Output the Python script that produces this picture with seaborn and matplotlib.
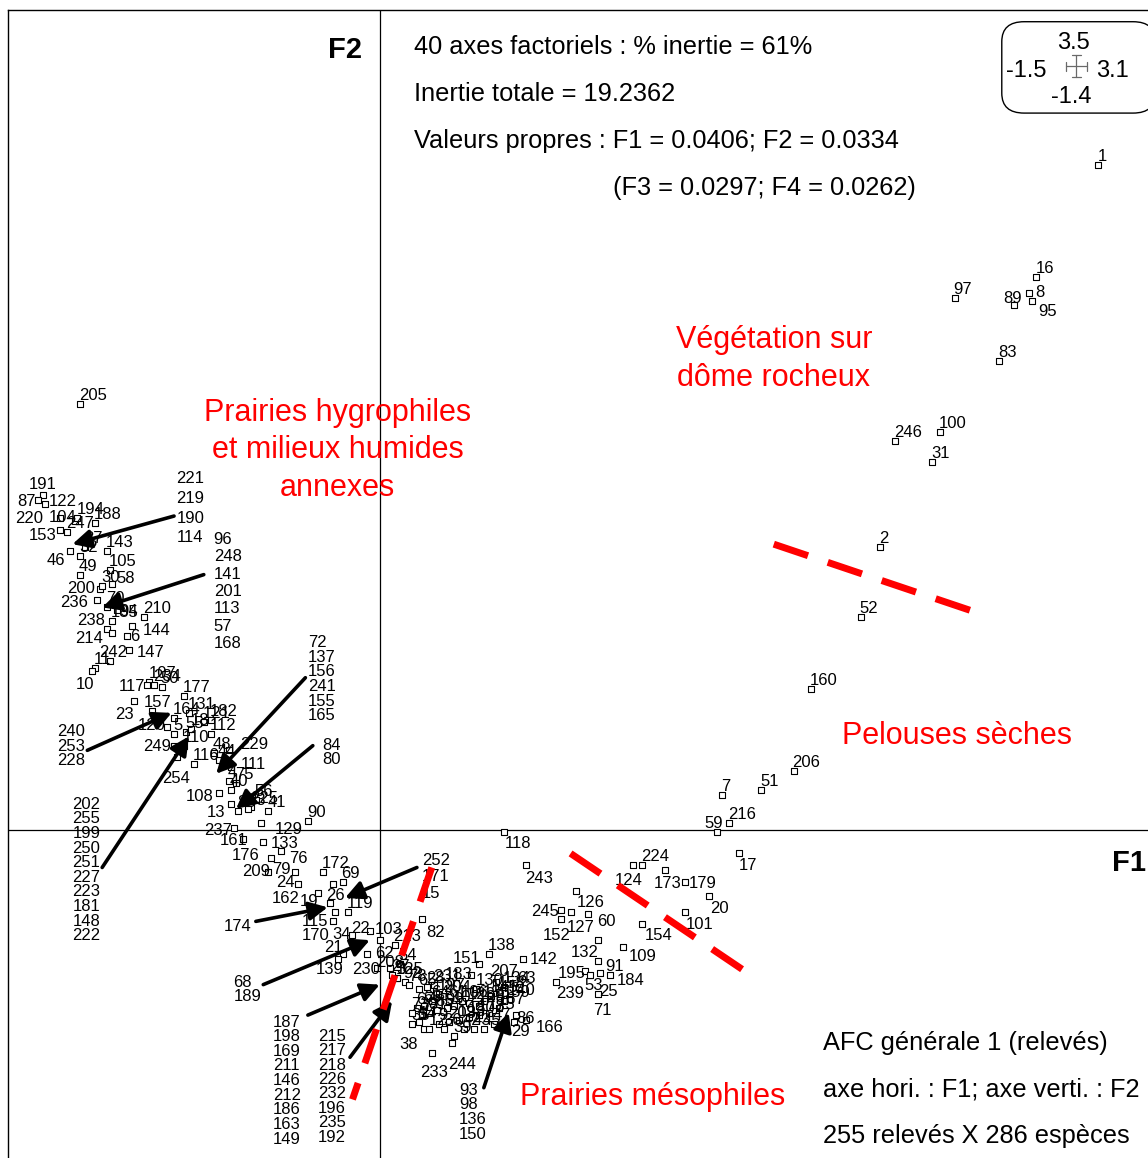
import matplotlib
matplotlib.use("Agg")
import matplotlib.pyplot as plt
from matplotlib.patches import FancyBboxPatch
import numpy as np
import pandas as pd
import seaborn as sns

# ---- data (factor scores) ----
pt_labels = ["1", "16", "8", "95", "89", "97", "83", "100", "246", "31", "2", "52", "160", "206", "51",
             "7", "216", "59", "17", "205", "118", "243", "124", "224", "173", "179", "20", "101", "154",
             "126", "245", "127", "152", "60", "132", "109", "91", "184", "25", "195", "53", "239", "71",
             "142", "138", "151", "183", "207", "134", "63", "140", "130", "38", "233", "244", "29", "166",
             "86"]
pt_x = [2.90, 2.65, 2.62, 2.63, 2.56, 2.32, 2.50, 2.26, 2.08, 2.23, 2.02, 1.94, 1.74, 1.67, 1.54,
        1.38, 1.41, 1.36, 1.45, -1.21, 0.50, 0.59, 1.02, 1.06, 1.15, 1.23, 1.33, 1.23, 1.06,
        0.79, 0.73, 0.77, 0.73, 0.84, 0.88, 0.98, 0.88, 0.93, 0.89, 0.83, 0.85, 0.71, 0.88,
        0.58, 0.44, 0.40, 0.37, 0.47, 0.50, 0.56, 0.52, 0.39, 0.18, 0.21, 0.29, 0.54, 0.59,
        0.55]
pt_y = [2.84, 2.36, 2.29, 2.26, 2.24, 2.27, 2.00, 1.70, 1.66, 1.57, 1.21, 0.91, 0.60, 0.25, 0.17,
        0.15, 0.03, -0.01, -0.10, 1.82, -0.01, -0.15, -0.15, -0.15, -0.17, -0.22, -0.28, -0.35, -0.40,
        -0.26, -0.34, -0.35, -0.38, -0.36, -0.47, -0.50, -0.56, -0.62, -0.61, -0.60, -0.62, -0.65, -0.70,
        -0.55, -0.53, -0.57, -0.62, -0.65, -0.67, -0.67, -0.72, -0.68, -0.85, -0.95, -0.91, -0.82, -0.81,
        -0.79]

# hygrophilous group (left)
left_labels = ["191", "87", "122", "220", "104", "194", "188", "153", "247", "46", "37", "32", "143",
               "49", "105", "58", "200", "30", "236", "70", "94", "210", "185", "238", "214", "6", "144",
               "147", "242", "11", "10", "107", "234", "117", "50", "177", "23", "157", "164", "131",
               "182", "120", "5", "55", "121", "18", "112", "249", "110", "229", "116", "48", "44",
               "254", "111", "4", "75", "108", "40", "56", "225", "41", "13", "88", "33", "90", "129",
               "237", "161", "133", "176", "76", "209", "79", "24", "172", "69", "26", "162", "19",
               "115", "119", "170", "22", "34", "103", "21", "62", "139", "230", "208", "213", "54",
               "125", "82"]
left_x = [-1.36, -1.38, -1.35, -1.29, -1.23, -1.22, -1.15, -1.29, -1.26, -1.25, -1.19, -1.21, -1.10,
          -1.21, -1.09, -1.08, -1.13, -1.12, -1.14, -1.10, -1.06, -0.95, -1.08, -1.10, -1.08, -1.02, -1.00,
          -1.01, -1.09, -1.15, -1.16, -0.93, -0.91, -0.94, -0.88, -0.79, -0.99, -0.92, -0.83, -0.77,
          -0.68, -0.86, -0.83, -0.78, -0.71, -0.76, -0.68, -0.83, -0.79, -0.61, -0.75, -0.67, -0.65,
          -0.82, -0.60, -0.61, -0.58, -0.65, -0.60, -0.50, -0.52, -0.45, -0.60, -0.57, -0.53, -0.29, -0.48,
          -0.59, -0.55, -0.47, -0.44, -0.40, -0.45, -0.34, -0.33, -0.23, -0.15, -0.19, -0.25, -0.20,
          -0.19, -0.13, -0.18, -0.04, -0.11, 0.00, -0.15, -0.05, -0.17, -0.01, 0.04, 0.06, 0.08,
          0.07, 0.17]
left_y = [1.43, 1.41, 1.39, 1.33, 1.32, 1.33, 1.31, 1.28, 1.27, 1.19, 1.21, 1.17, 1.19,
          1.09, 1.11, 1.05, 1.03, 1.04, 0.98, 0.95, 0.94, 0.91, 0.89, 0.86, 0.84, 0.83, 0.87,
          0.77, 0.72, 0.69, 0.68, 0.63, 0.62, 0.62, 0.61, 0.57, 0.55, 0.51, 0.48, 0.50,
          0.47, 0.44, 0.41, 0.42, 0.46, 0.43, 0.41, 0.36, 0.36, 0.34, 0.28, 0.33, 0.30,
          0.31, 0.27, 0.21, 0.20, 0.16, 0.17, 0.13, 0.10, 0.08, 0.11, 0.08, 0.09, 0.04, 0.03,
          0.01, -0.04, -0.05, -0.12, -0.09, -0.18, -0.18, -0.23, -0.18, -0.22, -0.23, -0.27, -0.31,
          -0.39, -0.35, -0.35, -0.43, -0.45, -0.47, -0.53, -0.53, -0.55, -0.59, -0.59, -0.49, -0.57,
          -0.63, -0.38]

# mesophilous meadows: dense core
core_labels = ["27", "3", "92", "78", "65", "28", "231", "197", "204", "61", "64", "66", "67", "73",
               "77", "81", "85", "99", "102", "106", "123", "128", "135", "145", "158", "159", "167",
               "175", "178", "180", "193", "203", "9", "12", "14", "35", "36", "39", "42", "43", "45", "47"]
core_x = [0.05, 0.07, 0.10, 0.12, 0.16, 0.19, 0.22, 0.24, 0.26, 0.28, 0.21, 0.18, 0.15, 0.13,
          0.17, 0.20, 0.23, 0.27, 0.30, 0.33, 0.36, 0.40, 0.42, 0.45, 0.48, 0.50, 0.48,
          0.44, 0.40, 0.36, 0.32, 0.28, 0.24, 0.20, 0.16, 0.13, 0.26, 0.30, 0.34, 0.38, 0.42, 0.46]
core_y = [-0.62, -0.63, -0.65, -0.66, -0.68, -0.67, -0.66, -0.70, -0.71, -0.73, -0.73, -0.75, -0.76, -0.78,
          -0.79, -0.78, -0.77, -0.76, -0.75, -0.73, -0.74, -0.75, -0.73, -0.71, -0.69, -0.73, -0.76,
          -0.78, -0.79, -0.80, -0.81, -0.82, -0.83, -0.85, -0.82, -0.83, -0.85, -0.88, -0.85, -0.85,
          -0.85, -0.83]

# stacked label lists (relevés overlapping at one arrow tip)
list_a = ["221", "219", "190", "114"]
list_b = ["96", "248", "141", "201", "113", "57", "168"]
list_c = ["240", "253", "228"]
list_d = ["202", "255", "199", "250", "251", "227", "223", "181", "148", "222"]
list_e = ["72", "137", "156", "241", "155", "165"]
list_f = ["84", "80"]
list_g = ["252", "171", "15"]
list_h = ["174"]
list_i = ["68", "189"]
list_j = ["187", "198", "169", "211", "146", "212", "186", "163", "149"]
list_k = ["215", "217", "218", "226", "232", "196", "235", "192"]
list_l = ["93", "98", "136", "150"]

header_lines = ["40 axes factoriels : % inertie = 61%",
                "Inertie totale = 19.2362",
                "Valeurs propres : F1 = 0.0406; F2 = 0.0334"]
header_extra = "(F3 = 0.0297; F4 = 0.0262)"
footer_lines = ["AFC générale 1 (relevés)",
                "axe hori. : F1; axe verti. : F2",
                "255 relevés X 286 espèces"]
groups = ["Végétation sur\ndôme rocheux",
          "Prairies hygrophiles\net milieux humides\nannexes",
          "Pelouses sèches",
          "Prairies mésophiles"]

# ---- figure ----
sns.set_style("white")
plt.rcParams['font.family'] = ['Liberation Sans', 'DejaVu Sans']
plt.rcParams['text.color'] = 'black'

fig = plt.figure(figsize=(11.48, 11.58), dpi=100)
ax = fig.add_axes([8 / 1148, 0, 1140 / 1148, 1148 / 1158])
ax.set_xlim(-1.5, 3.1)
ax.set_ylim(-1.4, 3.5)
ax.set_xticks([])
ax.set_yticks([])
for side in ["right", "bottom"]:
    ax.spines[side].set_visible(False)
for side in ["left", "top"]:
    ax.spines[side].set_color("black")
    ax.spines[side].set_linewidth(1.0)

ax.axhline(0, color="black", lw=0.9, zorder=1)
ax.axvline(0, color="black", lw=0.9, zorder=1)

df = pd.DataFrame({
    "label": pt_labels + left_labels + core_labels,
    "x": pt_x + left_x + core_x,
    "y": pt_y + left_y + core_y,
})
sns.scatterplot(data=df, x="x", y="y", marker="s", s=13, facecolor="white",
                edgecolor="black", linewidth=0.8, ax=ax, zorder=3, legend=False)
ax.set_xlabel("")
ax.set_ylabel("")

# label offsets in pixels (dx, dy) for labels not written above-right of their point
offsets = {
    "46": (-23, -14), "10": (-17, -18), "233": (-12, -24), "38": (-25, -20), "244": (-3, -26),
    "209": (-26, -4), "17": (0, -17), "243": (-1, -18), "124": (-18, -20), "173": (-11, -18),
    "179": (4, -6), "20": (1, -17), "101": (1, -17), "154": (2, -16), "126": (1, -16),
    "245": (-30, -6), "127": (-4, -20), "152": (-18, -21), "60": (9, -12), "132": (-27, -17),
    "109": (6, -14), "91": (7, -10), "184": (7, -10), "25": (-1, -23), "195": (-28, -7),
    "53": (-6, -15), "239": (0, -16), "71": (-5, -21), "142": (6, -5), "151": (-26, 1),
    "183": (-27, -4), "207": (-6, 6), "118": (1, -16), "59": (-12, 4), "89": (-11, 2),
    "8": (6, -4), "95": (7, -15), "220": (-45, -5), "87": (-20, -6), "191": (-14, 6),
    "122": (4, -2), "104": (-26, -1), "153": (-31, -10), "200": (-33, -4), "236": (-37, -7),
    "238": (-30, 4), "214": (-37, -10), "242": (-10, 4), "117": (-28, -6), "23": (-19, -18),
    "120": (-29, -3), "249": (-31, -5), "254": (-14, -26), "108": (-33, -8), "13": (-24, -13),
    "237": (-29, -7), "161": (-24, -6), "176": (-39, -2), "79": (-23, -2), "24": (-22, -3),
    "162": (-46, -10), "19": (-30, -3), "115": (-31, -5), "170": (-33, -28), "34": (-20, -4),
    "21": (-18, 2), "139": (-22, -15), "230": (-25, -6), "208": (-14, 1), "62": (8, -4),
    "22": (-19, -2), "103": (-5, 6), "26": (-7, -16), "76": (9, -12), "133": (7, -6),
    "129": (14, -11), "111": (10, -2), "229": (12, 1), "157": (-8, 4), "6": (3, -5),
    "144": (11, -9), "147": (7, -7), "94": (2, -6), "58": (4, 1), "166": (10, -12),
    "29": (-2, -14), "86": (0, -8), "82": (4, -18),
}
for lab, x, y in zip(df["label"], df["x"], df["y"]):
    dx, dy = offsets.get(lab, (-1, 4))
    ax.annotate(lab, (x, y), xytext=(dx, dy), textcoords="offset pixels",
                ha="left", va="baseline", fontsize=12, zorder=4)

# stacked lists
px_y = 1 / 234.0
def draw_list(items, x0, y0, step):
    for i, lab in enumerate(items):
        ax.text(x0, y0 - i * step * px_y, lab, ha="left", va="center", fontsize=12, zorder=4)

draw_list(list_a, -0.82, 1.50, 19.7)
draw_list(list_b, -0.67, 1.24, 17.3)
draw_list(list_c, -1.30, 0.42, 14.5)
draw_list(list_d, -1.24, 0.11, 14.6)
draw_list(list_e, -0.29, 0.80, 14.6)
draw_list(list_f, -0.23, 0.36, 14.0)
draw_list(list_g, 0.17, -0.13, 16.5)
draw_list(list_h, -0.63, -0.41, 14.0)
draw_list(list_i, -0.59, -0.65, 14.0)
draw_list(list_j, -0.43, -0.82, 14.6)
draw_list(list_k, -0.25, -0.88, 14.4)
draw_list(list_l, 0.32, -1.11, 14.7)

# arrows from lists to their points
arrows = [((-0.83, 1.34), (-1.24, 1.22)), ((-0.71, 1.09), (-1.12, 0.95)),
          ((-1.18, 0.34), (-0.84, 0.50)), ((-1.12, -0.16), (-0.77, 0.40)),
          ((-0.30, 0.65), (-0.66, 0.24)), ((-0.27, 0.36), (-0.58, 0.09)),
          ((0.15, -0.16), (-0.14, -0.29)), ((-0.50, -0.39), (-0.21, -0.33)),
          ((-0.47, -0.66), (-0.04, -0.47)), ((-0.29, -0.79), (0.00, -0.66)),
          ((-0.12, -0.97), (0.05, -0.73)), ((0.42, -1.10), (0.52, -0.78))]
for start, end in arrows:
    ax.annotate("", xy=end, xytext=start,
                arrowprops=dict(arrowstyle="-|>", color="black", lw=2.6,
                                mutation_scale=28, shrinkA=0, shrinkB=0), zorder=5)

# red dashed group limits
for (x0, y0), (x1, y1) in [((1.59, 1.22), (2.46, 0.91)),
                           ((0.77, -0.10), (1.47, -0.60)),
                           ((0.21, -0.16), (-0.11, -1.15))]:
    ax.plot([x0, x1], [y0, y1], color="red", lw=5, dashes=(5.2, 3), solid_capstyle="butt",
            dash_capstyle="butt", zorder=6)

# group names
red_kw = dict(color="red", fontsize=22, ha="center", va="center", linespacing=1.32, zorder=7)
ax.text(1.59, 2.01, groups[0], **red_kw)
ax.text(-0.17, 1.62, groups[1], **red_kw)
ax.text(2.33, 0.40, groups[2], **red_kw)
ax.text(1.10, -1.14, groups[3], **red_kw)

# header and footer text
for i, line in enumerate(header_lines):
    ax.text(0.14, 3.34 - i * 0.199, line, fontsize=18.3, ha="left", va="center")
ax.text(0.94, 2.74, header_extra, fontsize=18.3, ha="left", va="center")
for i, line in enumerate(footer_lines):
    ax.text(1.79, -0.91 - i * 0.199, line, fontsize=18.3, ha="left", va="center")

ax.text(-0.07, 3.33, "F2", fontsize=21, fontweight="bold", ha="right", va="center")
ax.text(3.09, -0.14, "F1", fontsize=21, fontweight="bold", ha="right", va="center")

# scale box
box = FancyBboxPatch((2.51, 3.06), 0.62, 0.39, boxstyle="round,pad=0,rounding_size=0.09",
                     facecolor="white", edgecolor="black", lw=1.0, zorder=8, clip_on=False,
                     mutation_aspect=234 / 248)
ax.add_patch(box)
ax.text(2.80, 3.36, "3.5", fontsize=17, ha="center", va="center", zorder=9)
ax.text(2.61, 3.24, "-1.5", fontsize=17, ha="center", va="center", zorder=9)
ax.text(2.955, 3.24, "3.1", fontsize=17, ha="center", va="center", zorder=9)
ax.text(2.79, 3.13, "-1.4", fontsize=17, ha="center", va="center", zorder=9)
cx, cy = 2.81, 3.26
ax.plot([cx - 0.042, cx + 0.042], [cy, cy], color="dimgray", lw=0.9, zorder=9)
ax.plot([cx, cx], [cy - 0.047, cy + 0.047], color="dimgray", lw=0.9, zorder=9)
for ex in (cx - 0.042, cx + 0.042):
    ax.plot([ex, ex], [cy - 0.02, cy + 0.02], color="dimgray", lw=0.9, zorder=9)
for ey in (cy - 0.047, cy + 0.047):
    ax.plot([cx - 0.018, cx + 0.018], [ey, ey], color="dimgray", lw=0.9, zorder=9)

fig.savefig("out.png", dpi=100)
